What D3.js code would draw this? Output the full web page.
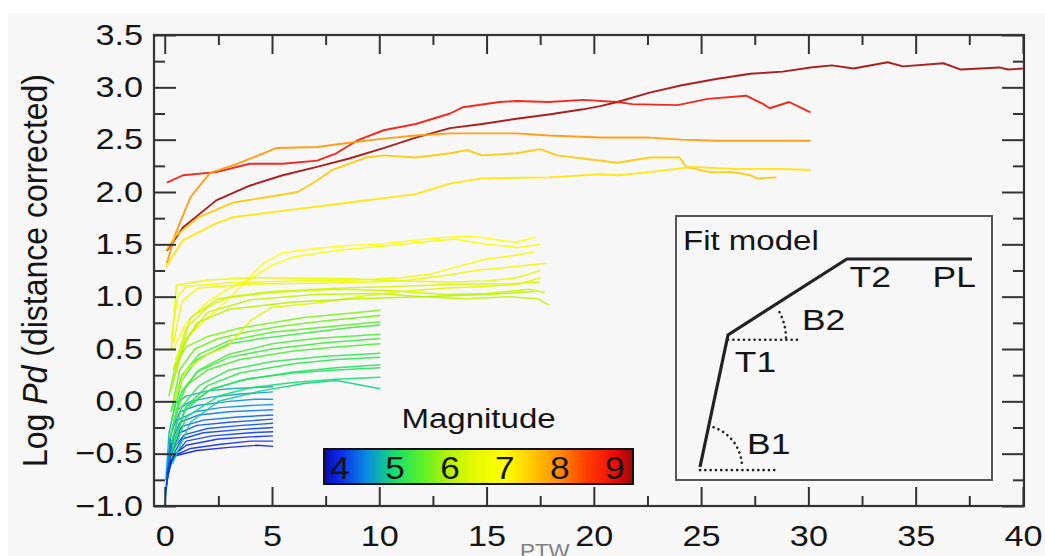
<!DOCTYPE html>
<html>
<head>
<meta charset="utf-8">
<script src="https://cdn.jsdelivr.net/npm/d3@7"></script>
<style>
  body { margin: 0; background: #fff; }
  text { font-family: "Liberation Sans", Arial, Helvetica, sans-serif; fill: #151515; }
</style>
</head>
<body>
<svg id="chart" width="1045" height="556"></svg>
<script>
// ---- axis ticks ----
const xMajorTicks = [0, 5, 10, 15, 20, 25, 30, 35, 40];
const xMinorTicks = [2.5, 7.5, 12.5, 17.5, 22.5, 27.5, 32.5, 37.5];
const yMajorTicks = [-1, -0.5, 0, 0.5, 1, 1.5, 2, 2.5, 3, 3.5];
const yMinorTicks = [-0.75, -0.25, 0.25, 0.75, 1.25, 1.75, 2.25, 2.75, 3.25];

// ---- magnitude colour bar ----
const magTicks = [4, 5, 6, 7, 8, 9];
const magRange = [3.71, 9.33];
const magStops = [3.71, 4.0, 4.5, 5.0, 5.5, 6.0, 6.5, 7.0, 7.5, 8.0, 8.5, 9.0, 9.33];
const magColors = ["#0a0aa8", "#0a2aee", "#0a8ee0", "#14e070", "#5cf028", "#b8f200", "#e8fa00",
                   "#ffff00", "#ffc800", "#ff8a00", "#ff3c00", "#ee0a0a", "#980808"];

// ---- Pd curves: [time (s), log Pd] ----
// M4 events, 5 s window
const m4Mags = [4.7, 4.6, 4.5, 4.5, 4.4, 4.3, 4.2, 4.2, 4.1, 4.1, 4.0, 4.0, 3.9];
const m4Curves = [
  [[0.05,-0.75],[0.2,-0.3],[0.5,-0.02],[1,0.05],[2,0.1],[3,0.12],[4,0.13],[5.05,0.14]],
  [[0.02,-1.0],[0.1,-0.7],[0.25,-0.35],[0.6,-0.08],[1.2,0.0],[2.2,0.04],[3.5,0.07],[5.05,0.09]],
  [[0.1,-0.7],[0.3,-0.3],[0.7,-0.1],[1.5,-0.04],[3,0.0],[4.2,0.02],[5.05,0.02]],
  [[0.05,-0.9],[0.25,-0.45],[0.6,-0.18],[1.4,-0.1],[2.6,-0.06],[4,-0.04],[5.05,-0.03]],
  [[0.08,-0.8],[0.3,-0.4],[0.7,-0.2],[1.6,-0.13],[3,-0.1],[5.05,-0.08]],
  [[0.1,-0.75],[0.35,-0.4],[0.8,-0.24],[1.8,-0.18],[3.4,-0.15],[5.05,-0.13]],
  [[0.05,-0.85],[0.3,-0.5],[0.7,-0.3],[1.5,-0.23],[3,-0.2],[5.05,-0.17]],
  [[0.1,-0.7],[0.4,-0.45],[0.9,-0.32],[2,-0.26],[3.6,-0.23],[5.05,-0.21]],
  [[0.08,-0.8],[0.3,-0.55],[0.8,-0.36],[1.8,-0.3],[3.5,-0.27],[5.05,-0.25]],
  [[0.1,-0.75],[0.35,-0.55],[1,-0.38],[2.2,-0.33],[4,-0.3],[5.05,-0.29]],
  [[0.12,-0.7],[0.4,-0.52],[1,-0.42],[2.5,-0.36],[4,-0.34],[5.05,-0.33]],
  [[0.15,-0.65],[0.45,-0.52],[1.2,-0.45],[2.6,-0.41],[4,-0.38],[5.05,-0.38]],
  [[0.2,-0.6],[0.5,-0.52],[1.5,-0.47],[3,-0.44],[4.3,-0.42],[5.05,-0.43]]
];

// M5 events, 10 s window
const m5Mags = [5.7, 5.6, 5.5, 5.3, 5.4, 5.3, 5.4, 5.2, 5.2, 5.1, 5.1, 5.0, 4.9];
const m5Curves = [
  [[0.2,0.05],[0.5,0.35],[1,0.52],[2,0.62],[3.5,0.7],[5,0.75],[6.5,0.8],[8,0.83],[10.05,0.87]],
  [[0.3,-0.1],[0.7,0.3],[1.4,0.5],[2.5,0.6],[4,0.67],[5.5,0.72],[7.5,0.77],[10.05,0.82]],
  [[0.3,-0.1],[0.8,0.25],[1.6,0.45],[3,0.58],[5,0.66],[7,0.7],[10.05,0.76]],
  [[0.3,-0.2],[0.8,0.2],[1.5,0.4],[3,0.55],[4.5,0.6],[6.5,0.65],[8.5,0.7],[10.05,0.73]],
  [[0.3,-0.3],[0.8,0.1],[1.6,0.3],[3,0.45],[5,0.55],[7,0.6],[10.05,0.64]],
  [[0.25,-0.35],[0.7,0.05],[1.5,0.28],[3,0.42],[5,0.5],[7.5,0.56],[10.05,0.6]],
  [[0.4,-0.2],[1,0.15],[2,0.3],[3.5,0.4],[6,0.48],[8,0.52],[10.05,0.55]],
  [[0.3,-0.4],[0.8,-0.05],[1.6,0.15],[3,0.3],[5,0.38],[7.5,0.43],[10.05,0.46]],
  [[0.35,-0.45],[1,-0.05],[2,0.15],[3.5,0.27],[6,0.36],[8,0.4],[10.05,0.42]],
  [[0.3,-0.5],[0.9,-0.1],[2,0.1],[3.5,0.2],[6,0.28],[8,0.32],[10.05,0.35]],
  [[0.4,-0.4],[1,-0.05],[2.2,0.12],[4,0.22],[6,0.27],[8,0.3],[10.05,0.32]],
  [[0.3,-0.55],[1,-0.15],[2.5,0.05],[4,0.13],[6,0.18],[8,0.21],[10.05,0.23]],
  [[0.35,-0.6],[1.2,-0.2],[2.5,0.0],[4.5,0.1],[6.5,0.17],[8,0.2],[9,0.16],[10.05,0.12]]
];

// M6-M7 events, ~18 s window
const m6Mags = [7.0, 6.9, 6.7, 6.6, 6.5, 6.3, 6.2, 6.1, 6.4, 6.0];
const m6Curves = [
  [[0.5,0.4],[1,0.6],[2,0.8],[3,0.98],[4,1.2],[4.6,1.32],[5.5,1.42],[7,1.46],[8.6,1.49],[10,1.5],[11.7,1.54],[13.3,1.57],[14.1,1.58],[15,1.56],[15.6,1.54],[16.4,1.52],[17.3,1.57]],
  [[0.4,0.5],[1,0.75],[2,0.95],[3,1.08],[4,1.17],[5,1.3],[6,1.38],[8,1.44],[10,1.48],[12,1.52],[13.5,1.55],[15,1.5],[16.5,1.47],[17.5,1.5]],
  [[0.3,0.6],[0.6,1.0],[1,1.1],[3,1.13],[6,1.15],[9,1.16],[11,1.18],[12.5,1.22],[13.5,1.28],[15,1.36],[16.5,1.4],[17.2,1.43]],
  [[0.4,0.55],[0.8,0.95],[1.5,1.08],[4,1.12],[8,1.13],[11,1.15],[13,1.2],[14.5,1.25],[16,1.28],[17.8,1.32]],
  [[0.3,0.5],[0.55,1.11],[2,1.16],[4,1.18],[8.6,1.17],[11,1.15],[13.3,1.14],[15,1.15],[16.4,1.18],[17.5,1.25]],
  [[0.4,0.3],[1,0.7],[2,0.9],[3,1.0],[5,1.05],[8,1.08],[11,1.1],[14,1.12],[16,1.12],[17.5,1.14]],
  [[0.5,0.3],[1.2,0.8],[2.5,0.98],[5,1.04],[8,1.07],[10.5,1.06],[13,1.02],[15,1.03],[17,1.07],[17.7,1.04]],
  [[0.4,0.2],[1,0.6],[2,0.85],[4,0.97],[7,1.02],[10,1.03],[12,1.0],[14,0.98],[16,1.0],[17.4,0.98],[17.9,0.92]],
  [[0.4,0.0],[1,0.3],[2,0.45],[2.9,0.52],[4,0.77],[5,0.9],[7.1,0.94],[9,1.0],[11,1.05],[13,1.08],[15,1.1],[16.5,1.12],[17.5,1.18]],
  [[0.3,0.1],[0.8,0.5],[1.5,0.75],[3,0.88],[6,0.95],[9,0.98],[12,1.0],[15,1.02],[17.2,1.05]]
];

// great earthquakes, 30-40 s windows
const bigMags = [9.3, 8.9, 7.9, 7.5, 7.25];
const bigCurves = [
  [[0.1,1.44],[0.85,1.66],[2.4,1.92],[3.96,2.06],[5.5,2.16],[7.1,2.24],[8.6,2.32],[10.2,2.42],[11.7,2.52],[13.3,2.61],[14.8,2.65],[16.4,2.7],[17.9,2.74],[19.5,2.79],[20.3,2.82],[21.1,2.86],[22.6,2.95],[24.1,3.02],[25.7,3.08],[27.3,3.13],[28.8,3.15],[30.1,3.19],[31.1,3.21],[32.1,3.18],[33.7,3.24],[34.4,3.2],[36.3,3.23],[37.1,3.17],[38.9,3.19],[39.3,3.17],[40,3.18]],
  [[0.1,2.09],[0.85,2.16],[2.4,2.19],[3.96,2.27],[5.5,2.27],[7.1,2.3],[8.0,2.37],[8.95,2.49],[10.2,2.59],[11.7,2.65],[13.3,2.75],[13.9,2.81],[15.6,2.86],[16.4,2.87],[17.9,2.86],[19.5,2.88],[21.1,2.86],[21.8,2.84],[23.9,2.83],[25.3,2.89],[27.1,2.92],[27.9,2.84],[28.2,2.8],[29.1,2.86],[29.6,2.81],[30.1,2.76]],
  [[0.1,1.32],[0.5,1.6],[1.2,1.95],[2.1,2.18],[3.4,2.27],[5.2,2.42],[7.1,2.43],[8.6,2.47],[10.2,2.51],[11.7,2.54],[13.3,2.56],[16.4,2.56],[17.9,2.54],[20.3,2.52],[22.6,2.52],[24.1,2.5],[25.7,2.49],[30.1,2.49]],
  [[0.1,1.45],[0.5,1.58],[1.6,1.76],[3.2,1.9],[4.75,1.95],[6.2,2.0],[7.1,2.11],[7.8,2.21],[9.4,2.33],[10.2,2.35],[11.7,2.33],[13.3,2.37],[14.1,2.4],[14.8,2.35],[16.4,2.37],[17.5,2.41],[18.3,2.35],[19.5,2.32],[21.1,2.28],[22.6,2.33],[24.0,2.33],[24.3,2.24],[25.4,2.19],[26.5,2.19],[27.3,2.16],[27.6,2.13],[28.5,2.14]],
  [[0.05,1.28],[0.85,1.54],[2.4,1.7],[3.2,1.76],[5.5,1.82],[8.6,1.9],[11.7,1.98],[13.3,2.08],[14.8,2.13],[17.9,2.14],[20.3,2.17],[21.1,2.16],[22.6,2.19],[24.6,2.24],[26.5,2.22],[28.8,2.22],[30.1,2.21]]
];

// ---- fit model schematic (unit box) ----
const modelPath = [[0, 0], [0.103, 0.635], [0.54, 1], [1, 1]];
const modelLabels = [
  { text: "T1", at: [0.128, 0.457] },
  { text: "B1", at: [0.173, 0.062] },
  { text: "B2", at: [0.375, 0.659] },
  { text: "T2", at: [0.55, 0.865] },
  { text: "PL", at: [0.855, 0.865] }
];

const W = 1045, H = 556;
const svg = d3.select("#chart");

// page background
svg.append("rect").attr("x", 8).attr("y", 13).attr("width", W - 8).attr("height", H - 13)
  .attr("fill", "#f7f7f7");

const x = d3.scaleLinear().domain([-0.5, 40.05]).range([154, 1024]);
const y = d3.scaleLinear().domain([-1, 3.5]).range([506, 35]);
const color = d3.scaleLinear().domain(magStops).range(magColors).clamp(true);

const STRETCH = 1.18;
const plot = svg.append("g");

// curves
const line = d3.line().x(d => x(d[0])).y(d => y(d[1]));
const groups = [
  { mags: m4Mags, curves: m4Curves, w: 1.4 },
  { mags: m5Mags, curves: m5Curves, w: 1.5 },
  { mags: m6Mags, curves: m6Curves, w: 1.5 },
  { mags: bigMags, curves: bigCurves, w: 1.9 }
];
groups.forEach(g => {
  plot.append("g").selectAll("path")
    .data(g.curves.map((c, i) => ({ pts: c, mag: g.mags[i] })))
    .join("path")
    .attr("d", d => line(d.pts))
    .attr("fill", "none")
    .attr("stroke", d => color(d.mag))
    .attr("stroke-width", g.w)
    .attr("stroke-linejoin", "round")
    .attr("stroke-opacity", 0.9);
});

// axes (inward ticks on all four sides)
const axisColor = "#333";
function styleAxis(sel) {
  sel.select(".domain").remove();
  sel.selectAll(".tick line").attr("stroke", axisColor).attr("stroke-width", 2);
}
const fmtY = d3.format(".1f");

svg.append("g").attr("transform", `translate(0,${y(-1)})`)
  .call(d3.axisBottom(x).tickValues(xMajorTicks).tickSize(-19).tickPadding(19).tickFormat(d3.format("d")))
  .call(styleAxis)
  .call(s => s.selectAll(".tick text").attr("font-size", 29).attr("fill", "#151515")
    .attr("font-family", "Liberation Sans, Arial, sans-serif")
    .attr("transform", `scale(${STRETCH},1)`).attr("x", 0));
svg.append("g").attr("transform", `translate(0,${y(-1)})`)
  .call(d3.axisBottom(x).tickValues(xMinorTicks).tickSize(-10).tickFormat(""))
  .call(styleAxis);
svg.append("g").attr("transform", `translate(0,${y(3.5)})`)
  .call(d3.axisTop(x).tickValues(xMajorTicks).tickSize(-19).tickFormat(""))
  .call(styleAxis);
svg.append("g").attr("transform", `translate(0,${y(3.5)})`)
  .call(d3.axisTop(x).tickValues(xMinorTicks).tickSize(-10).tickFormat(""))
  .call(styleAxis);

svg.append("g").attr("transform", `translate(${x(-0.5)},0)`)
  .call(d3.axisLeft(y).tickValues(yMajorTicks).tickSize(-22).tickPadding(11).tickFormat(fmtY))
  .call(styleAxis)
  .call(s => s.selectAll(".tick text").attr("font-size", 29).attr("fill", "#151515")
    .attr("font-family", "Liberation Sans, Arial, sans-serif")
    .attr("x", 0).attr("transform", `translate(-11,0) scale(${STRETCH},1)`));
svg.append("g").attr("transform", `translate(${x(-0.5)},0)`)
  .call(d3.axisLeft(y).tickValues(yMinorTicks).tickSize(-11).tickFormat(""))
  .call(styleAxis);
svg.append("g").attr("transform", `translate(${x(40.05)},0)`)
  .call(d3.axisRight(y).tickValues(yMajorTicks).tickSize(-22).tickFormat(""))
  .call(styleAxis);
svg.append("g").attr("transform", `translate(${x(40.05)},0)`)
  .call(d3.axisRight(y).tickValues(yMinorTicks).tickSize(-11).tickFormat(""))
  .call(styleAxis);

// plot frame
svg.append("rect")
  .attr("x", x(-0.5)).attr("y", y(3.5))
  .attr("width", x(40.05) - x(-0.5)).attr("height", y(-1) - y(3.5))
  .attr("fill", "none").attr("stroke", axisColor).attr("stroke-width", 2.2);

// y-axis title
const yTitle = svg.append("text")
  .attr("transform", `translate(47,${(y(3.5) + y(-1)) / 2}) rotate(-90) scale(1,1.08)`)
  .attr("text-anchor", "middle").attr("font-size", 32);
yTitle.append("tspan").text("Log ");
yTitle.append("tspan").attr("font-style", "italic").text("Pd");
yTitle.append("tspan").text(" (distance corrected)");

// x-axis caption
svg.append("text").attr("x", 520).attr("y", 558)
  .attr("font-family", "Open Sans, sans-serif").attr("font-size", 20)
  .style("fill", "#808080")
  .attr("transform", "translate(520,0) scale(1.12,1) translate(-520,0)")
  .text("PTW");

// magnitude colour bar
const cb = { x0: 324, x1: 633, y0: 449, y1: 484 };
const magX = d3.scaleLinear().domain(magRange).range([cb.x0, cb.x1]);
const grad = svg.append("defs").append("linearGradient").attr("id", "magGrad")
  .attr("x1", "0%").attr("x2", "100%").attr("y1", "0%").attr("y2", "0%");
grad.selectAll("stop").data(magStops).join("stop")
  .attr("offset", d => ((d - magRange[0]) / (magRange[1] - magRange[0]) * 100) + "%")
  .attr("stop-color", d => color(d));
svg.append("rect").attr("x", cb.x0).attr("y", cb.y0)
  .attr("width", cb.x1 - cb.x0).attr("height", cb.y1 - cb.y0)
  .attr("fill", "url(#magGrad)").attr("stroke", "#111").attr("stroke-width", 2);
svg.append("g").selectAll("text").data(magTicks).join("text")
  .attr("transform", d => `translate(${magX(d)},${cb.y1 - 5}) scale(1.1,1)`)
  .attr("text-anchor", "middle").attr("font-size", 32).text(d => d);
svg.append("text")
  .attr("transform", `translate(${(cb.x0 + cb.x1) / 2},428) scale(${STRETCH},1)`)
  .attr("text-anchor", "middle").attr("font-size", 28).text("Magnitude");

// fit model inset
const inset = { x0: 676, x1: 992, y0: 216, y1: 480 };
svg.append("rect").attr("x", inset.x0).attr("y", inset.y0)
  .attr("width", inset.x1 - inset.x0).attr("height", inset.y1 - inset.y0)
  .attr("fill", "#f7f7f7").attr("stroke", "#555").attr("stroke-width", 2);
svg.append("text")
  .attr("transform", `translate(${inset.x0 + 7},250) scale(${STRETCH},1)`)
  .attr("font-size", 28).text("Fit model");

const mx = d3.scaleLinear().domain([0, 1]).range([700, 972]);
const my = d3.scaleLinear().domain([0, 1]).range([467, 259]);
const dotted = { stroke: "#222", "stroke-width": 2.6, "stroke-dasharray": "0.1,5.2", "stroke-linecap": "round", fill: "none" };
function applyAttrs(sel, attrs) { Object.entries(attrs).forEach(([k, v]) => sel.attr(k, v)); return sel; }

// reference (horizontal) lines for the slope angles
applyAttrs(svg.append("line").attr("x1", mx(0)).attr("y1", my(-0.015)).attr("x2", mx(0.283)).attr("y2", my(-0.015)), dotted);
applyAttrs(svg.append("line").attr("x1", mx(0.103)).attr("y1", my(0.612)).attr("x2", mx(0.368)).attr("y2", my(0.612)), dotted);

// angle arcs
function arcPath(cx, cy, r, a0, a1) {
  const p = d3.path();
  p.arc(cx, cy, r, a0, a1, true);
  return p.toString();
}
const b1Angle = Math.atan2(my(0) - my(0.635), mx(0.103) - mx(0));
const b2Angle = Math.atan2(my(0.635) - my(1), mx(0.54) - mx(0.103));
applyAttrs(svg.append("path").attr("d", arcPath(mx(0), my(0), 42, -0.1, -b1Angle + 0.06)), dotted);
applyAttrs(svg.append("path").attr("d", arcPath(mx(0.103), my(0.635) + 4, 58, -0.02, -b2Angle + 0.08)), dotted);

svg.append("path")
  .attr("d", d3.line().x(d => mx(d[0])).y(d => my(d[1]))(modelPath))
  .attr("fill", "none").attr("stroke", "#222").attr("stroke-width", 3.2).attr("stroke-linejoin", "miter");

svg.append("g").selectAll("text").data(modelLabels).join("text")
  .attr("transform", d => `translate(${mx(d.at[0])},${my(d.at[1])}) scale(${STRETCH},1)`)
  .attr("font-size", 30).text(d => d.text);
</script>
</body>
</html>
